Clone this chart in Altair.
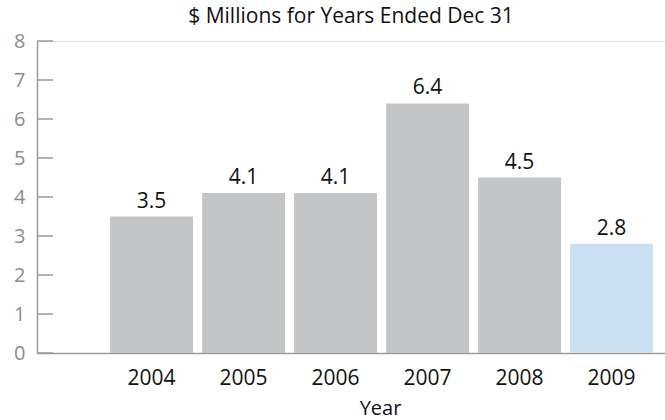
import altair as alt
import pandas as pd

years = ["2004", "2005", "2006", "2007", "2008", "2009"]
values = [3.5, 4.1, 4.1, 6.4, 4.5, 2.8]
kinds = ["past", "past", "past", "past", "past", "current"]
y_ticks = [0, 1, 2, 3, 4, 5, 6, 7, 8]

df = pd.DataFrame({"Year": years, "Value": values, "Kind": kinds})
ticks_df = pd.DataFrame({"Value": y_ticks})

FONT = "Open Sans"

xscale = alt.Scale(domain=years, paddingInner=0.098, paddingOuter=0.462, align=0.86)
yscale = alt.Scale(domain=[0, 8], nice=False, zero=True)

x_axis = alt.Axis(title="Year", labelAngle=0, ticks=False, grid=False)
y_axis = alt.Axis(title=None, values=y_ticks, ticks=False, grid=False)

bars = alt.Chart(df).mark_bar().encode(
    x=alt.X("Year:N", scale=xscale, sort=years, axis=x_axis),
    y=alt.Y("Value:Q", scale=yscale, axis=y_axis),
    color=alt.Color("Kind:N", scale=alt.Scale(domain=["past", "current"],
                                              range=["#c4c5c7", "#cadff2"]), legend=None),
)

labels = alt.Chart(df).mark_text(baseline="alphabetic", dy=-9, font=FONT, fontSize=21, color="#111").encode(
    x=alt.X("Year:N", scale=xscale, sort=years, axis=x_axis),
    y=alt.Y("Value:Q", scale=yscale, axis=y_axis),
    text=alt.Text("Value:Q", format=".1f"),
)

tick_marks = alt.Chart(ticks_df).mark_rule(color="#9a9a9a", strokeWidth=1.5).encode(
    y=alt.Y("Value:Q", scale=yscale, axis=y_axis),
    x=alt.value(0),
    x2=alt.value(16),
)

chart = alt.layer(bars, tick_marks, labels).properties(
    width=628,
    height=312,
    title=alt.TitleParams("$ Millions for Years Ended Dec 31", font=FONT, fontSize=21,
                          fontWeight="normal", color="#111", offset=4),
    autosize=alt.AutoSizeParams(type="none"),
    padding={"left": 37, "top": 41, "right": 0, "bottom": 67},
).configure_view(strokeWidth=0).configure(background="white").configure_axisY(
    labelOverlap=False, labelBound=False, domainColor="#9a9a9a", domainWidth=1.5,
    labelFont=FONT, labelFontSize=20, labelColor="#8c8c8c", labelPadding=12,
).configure_axisX(
    domainColor="#9a9a9a", domainWidth=1.5, labelFont=FONT, labelFontSize=21,
    labelColor="#111", labelPadding=14, titleFont=FONT, titleFontSize=20,
    titleFontWeight="normal", titleColor="#111", titleX=343, titleY=61,
    titleAlign="center", titleBaseline="alphabetic",
)

chart.save("out.html", embed_options={"renderer": "svg", "actions": False})
